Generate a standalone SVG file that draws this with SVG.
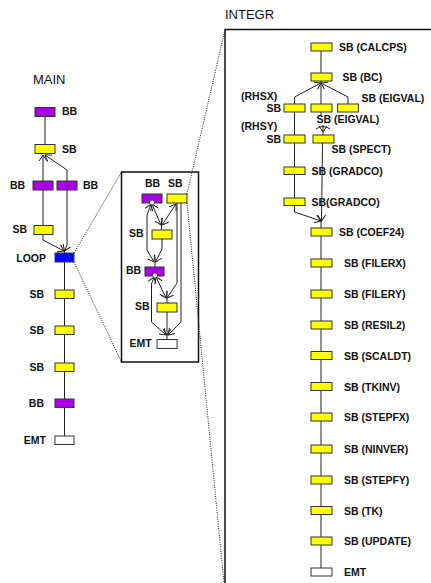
<svg xmlns="http://www.w3.org/2000/svg" width="431" height="583" viewBox="0 0 431 583">
<style>
text{font-family:"Liberation Sans",Arial,sans-serif;fill:#111}
.l{font-size:10.5px;font-weight:bold}
.t{font-size:13px}
.e{fill:none;stroke:#222;stroke-width:1}
.d{fill:none;stroke:#222;stroke-width:1;stroke-dasharray:1 1.3}
.fr{stroke:#111;stroke-width:1.5;fill:none}
.bb{fill:#a900e6;stroke:#333;stroke-width:1}
.sb{fill:#ffff00;stroke:#333;stroke-width:1}
.lp{fill:#0008f0;stroke:#333;stroke-width:1}
.em{fill:#fff;stroke:#333;stroke-width:1}
.c{fill:#fff;stroke:#333;stroke-width:0.8}
</style>
<defs>
<marker id="ah" markerUnits="userSpaceOnUse" markerWidth="12" markerHeight="12" refX="0" refY="0" viewBox="-7 -6 8 12" orient="auto"><path d="M-6,-4 L0,0 L-6,4" fill="none" stroke="#222" stroke-width="1"/></marker>
<marker id="rv" markerUnits="userSpaceOnUse" markerWidth="12" markerHeight="12" refX="0" refY="0" viewBox="-1 -6 8 12" orient="auto"><path d="M6,-4 L0,0 L6,4" fill="none" stroke="#222" stroke-width="1"/></marker>
</defs>

<text class="t" x="33" y="84">MAIN</text>
<text class="t" x="225" y="19">INTEGR</text>

<g id="frames">
<rect class="fr" x="121.5" y="172" width="77" height="190"/>
<path class="fr" d="M225,600 L225,29.5 L440,29.5"/>
</g>

<g id="connectors">
<!-- zoom dotted lines -->
<path class="d" d="M74,253 L121.5,172"/>
<path class="d" d="M74,262 L121.5,362"/>
<path class="d" d="M187,194 L225,29.5"/>
<path class="d" d="M187,203 L224,583"/>
<!-- MAIN -->
<path class="e" d="M45,116.5 L45,144.5"/>
<path class="e" d="M43,155 L43,181" marker-start="url(#rv)"/>
<path class="e" d="M45,155 L67,170 L67,181" marker-start="url(#rv)"/>
<path class="e" d="M43,190 L43,225.5"/>
<path class="e" d="M43,234.5 L43,240 L64,251" marker-end="url(#ah)"/>
<path class="e" d="M67,190 L67,245 L64.5,251" marker-end="url(#ah)"/>
<path class="e" d="M64.5,251 L64.5,253"/>
<path class="e" d="M64.5,262 L64.5,436"/>
<!-- inset -->
<path class="e" d="M152,204 L161,225" marker-start="url(#rv)" marker-end="url(#ah)"/>
<path class="e" d="M176,204 L162,225" marker-start="url(#rv)" marker-end="url(#ah)"/>
<path class="e" d="M161.5,225 L161.5,230"/>
<path class="e" d="M151,204 L147,215 L147,250 L154,262" marker-start="url(#rv)" marker-end="url(#ah)"/>
<path class="e" d="M162,239 L162,249 L155.5,262" marker-end="url(#ah)"/>
<path class="e" d="M155,262 L155,267"/>
<path class="e" d="M156,277 L166,298" marker-start="url(#rv)" marker-end="url(#ah)"/>
<path class="e" d="M177,203 L177,283 L167,298" marker-end="url(#ah)"/>
<path class="e" d="M167,298 L167,303"/>
<path class="e" d="M154,277 L151.5,284 L151.5,322 L166,335" marker-start="url(#rv)" marker-end="url(#ah)"/>
<path class="e" d="M181,203 L181,322 L168,335" marker-end="url(#ah)"/>
<path class="e" d="M167,312 L167,335" marker-end="url(#ah)"/>
<path class="e" d="M167,335 L167,339.5"/>
<!-- INTEGR -->
<path class="e" d="M321,51 L321,73"/>
<path class="e" d="M321,81 L321,104"/>
<path class="e" d="M321,83 L294.5,97 L294.5,104" marker-start="url(#rv)"/>
<path class="e" d="M321,83 L348,97 L348,104" marker-start="url(#rv)"/>
<path class="e" d="M294.5,112 L294.5,212 L321,221" marker-end="url(#ah)"/>
<path class="e" d="M321,112 L321,116"/>
<path class="e" d="M323,125 L323,132" marker-end="url(#ah)"/>
<path class="e" d="M316,129 Q323,124 330,129"/>
<path class="e" d="M323,132 L323,135"/>
<path class="e" d="M322.5,143 L321.5,221" marker-end="url(#ah)"/>
<path class="e" d="M321,221 L321,568"/>
</g>

<g id="main-bb1"><rect class="bb" x="35" y="107.5" width="20" height="9"/><text class="l" x="62" y="115">BB</text></g>
<g id="main-sb1"><rect class="sb" x="35" y="144.5" width="20" height="9"/><text class="l" x="62" y="153">SB</text></g>
<g id="main-bb2l"><rect class="bb" x="33" y="181" width="20" height="9"/><text class="l" x="10" y="189">BB</text></g>
<g id="main-bb2r"><rect class="bb" x="57" y="181" width="20" height="9"/><text class="l" x="83" y="189">BB</text></g>
<g id="main-sb2"><rect class="sb" x="34" y="225.5" width="19" height="9"/><text class="l" x="12.5" y="233">SB</text></g>
<g id="main-loop"><rect class="lp" x="55" y="253" width="19" height="9"/><text class="l" x="46" y="262" text-anchor="end">LOOP</text></g>
<g id="main-sb3"><rect class="sb" x="55" y="290" width="19" height="8.5"/><text class="l" x="44" y="298" text-anchor="end">SB</text></g>
<g id="main-sb4"><rect class="sb" x="55" y="326" width="19" height="8.5"/><text class="l" x="44" y="334" text-anchor="end">SB</text></g>
<g id="main-sb5"><rect class="sb" x="55" y="363" width="19" height="8.5"/><text class="l" x="44" y="371" text-anchor="end">SB</text></g>
<g id="main-bb3"><rect class="bb" x="55" y="399" width="19" height="8.5"/><text class="l" x="44" y="407" text-anchor="end">BB</text></g>
<g id="main-emt"><rect class="em" x="55" y="436" width="19" height="8.5"/><text class="l" x="46" y="444" text-anchor="end">EMT</text></g>

<g id="loop-bb1"><rect class="bb" x="142" y="194" width="20" height="9"/><circle class="c" cx="152" cy="202.5" r="2.5"/><text class="l" x="145" y="187">BB</text></g>
<g id="loop-sb1"><rect class="sb" x="167" y="194" width="20" height="9"/><text class="l" x="168" y="187">SB</text></g>
<g id="loop-sb2"><rect class="sb" x="152" y="230" width="20" height="9"/><text class="l" x="129" y="237">SB</text></g>
<g id="loop-bb2"><rect class="bb" x="145" y="267" width="19" height="9"/><circle class="c" cx="155" cy="275.5" r="2.5"/><text class="l" x="126" y="274">BB</text></g>
<g id="loop-sb3"><rect class="sb" x="157" y="303" width="20" height="9"/><text class="l" x="135" y="310">SB</text></g>
<g id="loop-emt"><rect class="em" x="157" y="339.5" width="20" height="9"/><text class="l" x="129.5" y="347">EMT</text></g>

<g id="i-calcps"><rect class="sb" x="311" y="43" width="21" height="8"/><text class="l" x="339" y="51">SB (CALCPS)</text></g>
<g id="i-bc"><rect class="sb" x="311" y="73" width="21" height="8"/><text class="l" x="342.5" y="81">SB (BC)</text></g>
<g id="i-rhsx"><rect class="sb" x="284" y="104" width="21" height="8"/><text class="l" x="241" y="100">(RHSX)</text><text class="l" x="281" y="112" text-anchor="end">SB</text></g>
<g id="i-eigval1"><rect class="sb" x="311" y="104" width="21" height="8"/><text class="l" x="316.5" y="123">SB (EIGVAL)</text></g>
<g id="i-eigval2"><rect class="sb" x="337.5" y="104" width="21" height="8"/><text class="l" x="361.5" y="101.5">SB (EIGVAL)</text></g>
<g id="i-rhsy"><rect class="sb" x="284" y="135" width="21" height="8"/><text class="l" x="241" y="130">(RHSY)</text><text class="l" x="281" y="143" text-anchor="end">SB</text></g>
<g id="i-spect"><rect class="sb" x="313" y="135" width="21" height="8"/><text class="l" x="331.5" y="153">SB (SPECT)</text></g>
<g id="i-gradco1"><rect class="sb" x="284" y="167" width="21" height="7.5"/><text class="l" x="311.5" y="174.5">SB (GRADCO)</text></g>
<g id="i-gradco2"><rect class="sb" x="284" y="198" width="21" height="7.5"/><text class="l" x="311.5" y="205.5">SB(GRADCO)</text></g>
<g id="i-coef24"><rect class="sb" x="311" y="228" width="21" height="8"/><text class="l" x="339" y="236">SB (COEF24)</text></g>
<g id="i-filerx"><rect class="sb" x="311" y="259" width="21" height="8"/><text class="l" x="344" y="267">SB (FILERX)</text></g>
<g id="i-filery"><rect class="sb" x="311" y="290" width="21" height="8"/><text class="l" x="344" y="298">SB (FILERY)</text></g>
<g id="i-resil2"><rect class="sb" x="311" y="321" width="21" height="8"/><text class="l" x="344" y="329">SB (RESIL2)</text></g>
<g id="i-scaldt"><rect class="sb" x="311" y="351.5" width="21" height="8"/><text class="l" x="344" y="359.5">SB (SCALDT)</text></g>
<g id="i-tkinv"><rect class="sb" x="311" y="382.5" width="21" height="8"/><text class="l" x="344" y="390.5">SB (TKINV)</text></g>
<g id="i-stepfx"><rect class="sb" x="311" y="413" width="21" height="8"/><text class="l" x="344" y="421">SB (STEPFX)</text></g>
<g id="i-ninver"><rect class="sb" x="311" y="445" width="21" height="8"/><text class="l" x="344" y="453">SB (NINVER)</text></g>
<g id="i-stepfy"><rect class="sb" x="311" y="476" width="21" height="8"/><text class="l" x="344" y="484">SB (STEPFY)</text></g>
<g id="i-tk"><rect class="sb" x="311" y="506.5" width="21" height="8"/><text class="l" x="344" y="514.5">SB (TK)</text></g>
<g id="i-update"><rect class="sb" x="311" y="537" width="21" height="8"/><text class="l" x="344" y="545">SB (UPDATE)</text></g>
<g id="i-emt"><rect class="em" x="311" y="568" width="21" height="8"/><text class="l" x="344" y="576">EMT</text></g>
</svg>
